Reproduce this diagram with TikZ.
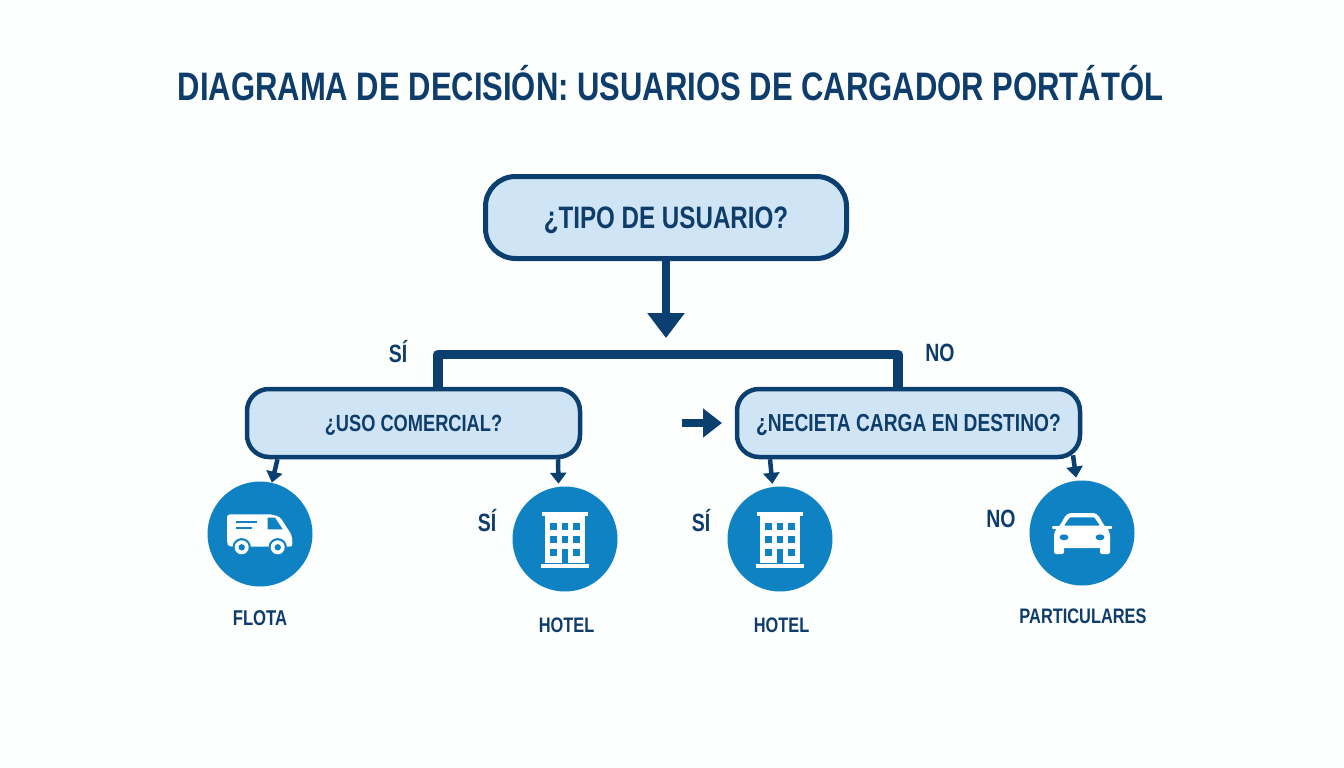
\documentclass[tikz,border=0pt]{standalone}
\usepackage{fontspec}
\setmainfont[FakeStretch=0.78]{Liberation Sans}
\usetikzlibrary{arrows.meta}

\definecolor{azulOscuro}{HTML}{0B3F70}
\definecolor{azulTexto}{HTML}{0F3D6B}
\definecolor{azulClaro}{HTML}{CFE4F4}
\definecolor{azulIcono}{HTML}{0E82C2}
\definecolor{fondo}{HTML}{FDFEFE}

\newcommand{\tam}[1]{\fontsize{#1}{#1}\selectfont\bfseries}

\tikzset{
	pregunta/.style={draw=azulOscuro, fill=azulClaro, line width=4.5pt, rounded corners=22pt,
		text=azulTexto, inner sep=0pt, text depth=0pt, text height=17pt,
		minimum width=333pt, minimum height=68pt},
	icono/.style={circle, fill=azulIcono, inner sep=0pt, minimum size=105pt},
	etiqueta/.style={text=azulTexto, inner sep=0pt},
	flechita/.style={draw=azulOscuro, line width=4.5pt, -{Triangle[width=16pt,length=11pt]}},
	hotelicon/.pic={
		\fill[white] (-23,-27.5) rectangle (23,-23.5);
		\fill[white] (-20,-23.5) rectangle (20,23.5);
		\fill[white] (-24,25) rectangle (24,28.5);
		% Windows, three by three
		\foreach \col in {-15,-3.3,8.3}{
			\foreach \fila in {-16,-3,9.7}{
				\fill[azulIcono] (\col,\fila) rectangle ++(6.7,6.9);
			}
		}
		\fill[azulIcono] (-3.3,9.7) rectangle (3.3,23.5);
	},
	vanicon/.pic={
		\fill[white, rounded corners=3pt] (-33,-19.7) -- (11.7,-19.7) -- (20,-17) -- (31.7,1)
			-- (32.7,12.7) -- (-31,12.7) -- (-33,9) -- cycle;
		\fill[azulIcono] (7.7,-16.3) -- (15,-16.3) -- (22.7,-4.7) -- (7.7,-4.7) -- cycle;
		\draw[azulIcono, line width=2pt] (-24,-12.3) -- (-2.7,-12.3);
		\draw[azulIcono, line width=2pt] (-24,-5.7) -- (-8.3,-5.7);
		% Wheels
		\foreach \rueda in {-18.3,17.7}{
			\fill[azulIcono] (\rueda,13.3) circle (9.2pt);
			\fill[white] (\rueda,13.3) circle (7pt);
			\fill[azulIcono] (\rueda,13.3) circle (3.2pt);
		}
	},
	caricon/.pic={
		% Wheels and mirrors first
		\fill[white, rounded corners=2pt] (-28,10) rectangle (-18,21);
		\fill[white, rounded corners=2pt] (18,10) rectangle (28,21);
		\fill[white, rounded corners=1pt] (-30,-7) rectangle (30,-4);
		\fill[white, rounded corners=4pt] (-15,-20) -- (15,-20) -- (23,-6) -- (28,-2)
			-- (28,15) -- (-28,15) -- (-28,-2) -- (-23,-6) -- cycle;
		\fill[azulIcono, rounded corners=1pt] (-12,-15.7) -- (12,-15.7) -- (18,-7.3) -- (-18,-7.3) -- cycle;
		\fill[azulIcono] (-18,4.3) ellipse (4.5pt and 3pt);
		\fill[azulIcono] (18,4.3) ellipse (4.5pt and 3pt);
	},
}

\begin{document}
\begin{tikzpicture}[x=1pt,y=-1pt]
	\fill[fondo] (0,0) rectangle (1344,768);
	\useasboundingbox (0,0) rectangle (1344,768);

	% Title
	\node[etiqueta] (titulo) at (670.5,83) {\tam{39.75}DIAGRAMA DE DECISIÓN: USUARIOS DE CARGADOR PORTÁTÓL};

	% Question boxes
	\node[pregunta, line width=5pt, rounded corners=30pt, text height=22pt, minimum width=361pt, minimum height=82pt] (tipo) at (666,217.5) {\tam{31}¿TIPO DE USUARIO?};
	\node[pregunta] (uso) at (413.5,423) {\tam{23.4}¿USO COMERCIAL?};
	\node[pregunta, minimum width=343pt] (destino) at (908.5,423) {\tam{24.6}¿NECIETA CARGA EN DESTINO?};

	% Circles with the icons
	\node[icono] (flota) at (260,534) {};
	\node[icono] (hotelA) at (565,539) {};
	\node[icono] (hotelB) at (780,539) {};
	\node[icono] (coche) at (1082,533) {};
	\pic at (flota) {vanicon};
	\pic at (hotelA) {hotelicon};
	\pic at (hotelB) {hotelicon};
	\pic at (coche) {caricon};

	% Names under the circles
	\node[etiqueta] (nomFlota) at (260,618) {\tam{21.4}FLOTA};
	\node[etiqueta] (nomHotelA) at (566.5,625) {\tam{21}HOTEL};
	\node[etiqueta] (nomHotelB) at (781.5,625) {\tam{21}HOTEL};
	\node[etiqueta] (nomCoche) at (1083,616) {\tam{21}PARTICULARES};

	% Answers
	\node[etiqueta] (siUso) at (398,352) {\tam{25}SÍ};
	\node[etiqueta] (noDestino) at (940,353) {\tam{25}NO};
	\node[etiqueta] (siHotelA) at (487,521) {\tam{25}SÍ};
	\node[etiqueta] (siHotelB) at (701,521) {\tam{25}SÍ};
	\node[etiqueta] (noCoche) at (1001,519) {\tam{25}NO};

	% Free ends of the connectors
	\coordinate (puntaTipo) at (666,338);
	\coordinate (barraIzq) at (438,354.5);
	\coordinate (barraDer) at (898,354.5);
	\coordinate (colaDestino) at (682,423);
	\coordinate (puntaDestino) at (722,423);

	% Connectors
	\draw[draw=azulOscuro, line width=8pt, -{Triangle[width=36pt,length=25pt]}] (tipo.south) -- (puntaTipo);
	\draw[draw=azulOscuro, line width=9.5pt, line join=round] (barraIzq |- uso.north) -- (barraIzq) -- (barraDer) -- (barraDer |- destino.north);
	\draw[draw=azulOscuro, line width=8pt, -{Triangle[width=28pt,length=19pt]}] (colaDestino) -- (puntaDestino);
	\draw[flechita] ([xshift=-136pt]uso.south) -- (flota.77);
	\draw[flechita, shorten >=3pt] ([xshift=144.5pt]uso.south) -- (hotelA.97);
	\draw[flechita, shorten >=3pt] ([xshift=-138.5pt]destino.south) -- (hotelB.98);
	\draw[flechita, shorten >=3pt] ([xshift=164.5pt,yshift=4pt]destino.south) -- (coche.96);
\end{tikzpicture}
\end{document}
